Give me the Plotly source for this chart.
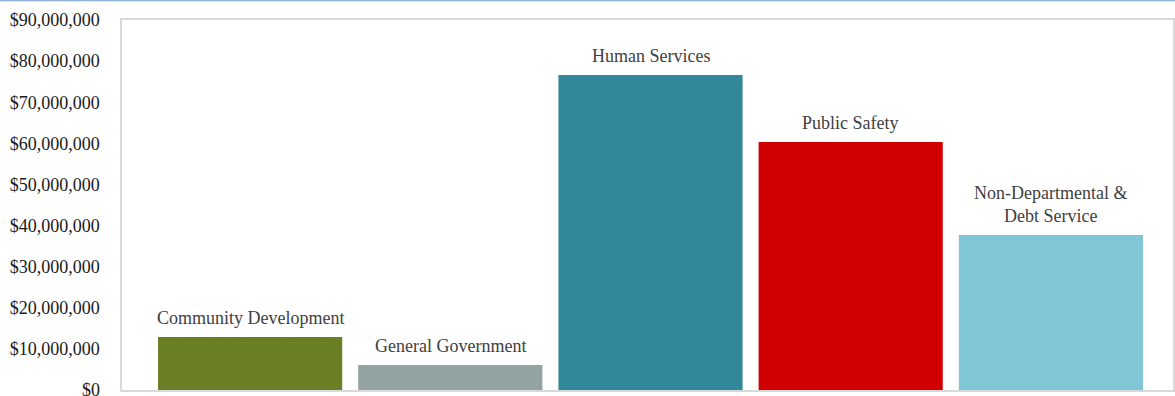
import plotly.graph_objects as go

categories = ["Community Development", "General Government", "Human Services",
              "Public Safety", "Non-Departmental &<br>Debt Service"]
values = [12900000, 6100000, 76600000, 60300000, 37700000]
colors = ["#6B7F24", "#93A3A3", "#31889A", "#D10000", "#7FC6D6"]
tick_vals = [i * 10000000 for i in range(10)]
tick_text = ["$0"] + ["${:,}".format(v) for v in tick_vals[1:]]

FONT = "Liberation Serif, Times New Roman, serif"

x = list(range(len(categories)))
fig = go.Figure(go.Bar(x=x, y=values, marker=dict(color=colors, line=dict(width=0)),
                       width=0.92, hoverinfo="skip"))

for xi, (c, v) in enumerate(zip(categories, values)):
    fig.add_annotation(x=xi, y=v, text=c, showarrow=False, yanchor="bottom",
                       yshift=7, font=dict(family=FONT, size=18, color="#404040"))

# "$0" label (plotly hides the bottom tick label that overflows the figure)
fig.add_annotation(xref="paper", x=0, y=tick_vals[0], text=tick_text[0], showarrow=False,
                   xanchor="right", yanchor="middle", xshift=-20,
                   font=dict(family=FONT, size=18, color="#1a1a1a"))

fig.add_shape(type="line", xref="paper", yref="paper", x0=-0.2, x1=1.1,
              y0=1 + 19.5 / 370, y1=1 + 19.5 / 370, line=dict(color="#8EB1DA", width=1.5))

fig.update_layout(
    width=1175, height=396,
    margin=dict(l=122, r=0, t=20, b=6),
    paper_bgcolor="white", plot_bgcolor="white",
    showlegend=False,
    font=dict(family=FONT, size=18, color="#1a1a1a"),
    xaxis=dict(range=[-0.64, 4.61], showticklabels=False, showgrid=False, zeroline=False,
               showline=True, mirror=True, linecolor="#D9D9D9", linewidth=1.5, fixedrange=True),
    yaxis=dict(range=[0, 90000000], tickvals=tick_vals[1:], ticktext=tick_text[1:], showgrid=False,
               zeroline=False, showline=True, mirror=True, linecolor="#D9D9D9", linewidth=1.5,
               ticks="", ticklabelstandoff=17, tickfont=dict(family=FONT, size=18, color="#1a1a1a")),
)

fig.write_html("out.html", post_script="document.body.style.margin='0';",
               config={"displayModeBar": False})
